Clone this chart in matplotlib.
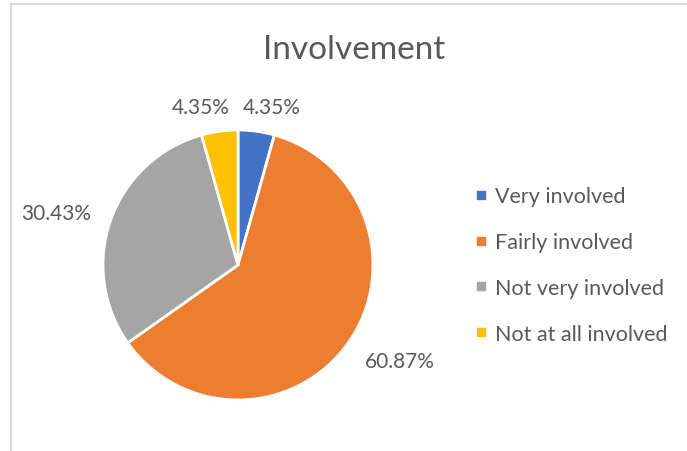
import matplotlib
matplotlib.use("Agg")
import matplotlib.pyplot as plt
from matplotlib.lines import Line2D
import numpy as np

categories = ["Very involved", "Fairly involved", "Not very involved", "Not at all involved"]
counts = [1, 14, 7, 1]
pct_labels = ["4.35%", "60.87%", "30.43%", "4.35%"]
colors = ["#4472C4", "#ED7D31", "#A5A5A5", "#FFC000"]
title = "Involvement"

txt = "#595959"
plt.rcParams["font.family"] = ["Lato", "DejaVu Sans"]

W, H = 687, 452
fig = plt.figure(figsize=(W / 100, H / 100), dpi=100)

# chart border (cut off at right and bottom)
fig.add_artist(Line2D([10.5 / W, 1.0], [1 - 5 / H, 1 - 5 / H], color="#D9D9D9", lw=1.5))
fig.add_artist(Line2D([10.5 / W, 10.5 / W], [0, 1 - 5 / H], color="#D9D9D9", lw=1.5))

# pie axes: center (238, 266) px, radius 135 px
cx, cy, r = 238, 266, 135
ax = fig.add_axes([(cx - r) / W, (H - cy - r) / H, 2 * r / W, 2 * r / H])
wedges, _ = ax.pie(counts, colors=colors, startangle=90, counterclock=False,
                   wedgeprops=dict(edgecolor="white", linewidth=2))
ax.set_xlim(-1, 1)
ax.set_ylim(-1, 1)

# data labels, outside end (px positions of label centres)
label_px = [(272, 108), (400, 362), (56, 214), (201, 108)]
for lab, (px, py) in zip(pct_labels, label_px):
    fig.text(px / W, 1 - py / H, lab, ha="center", va="center", fontsize=15, color=txt)

fig.text(354 / W, 1 - 50 / H, title, ha="center", va="center", fontsize=24, color=txt)

handles = [Line2D([], [], marker="s", linestyle="none", markersize=5.5,
                  markerfacecolor=c, markeredgecolor=c) for c in colors]
leg = fig.legend(handles, categories, loc="center left",
                 bbox_to_anchor=(476 / W, 1 - 266 / H), frameon=False,
                 fontsize=15.5, labelcolor=txt, handlelength=0.5,
                 handletextpad=0.38, labelspacing=1.2, borderpad=0,
                 borderaxespad=0)

fig.savefig("out.png", dpi=100)
